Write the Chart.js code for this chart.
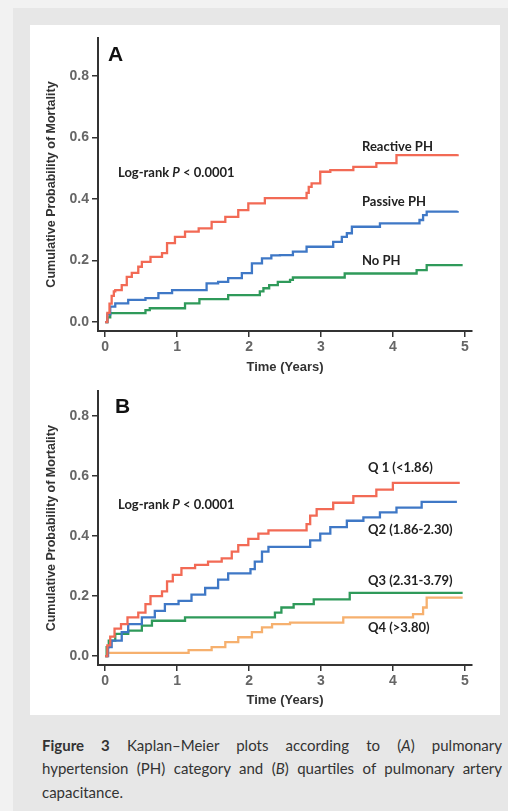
<!DOCTYPE html>
<html lang="en">
<head>
<meta charset="utf-8">
<title>Figure 3 Kaplan-Meier plots</title>
<script src="https://cdn.jsdelivr.net/npm/chart.js@4.4.1/dist/chart.umd.min.js"></script>
<style>
  body { margin: 0; width: 508px; height: 811px; position: relative; overflow: hidden; background: #f2f2f2; }
  #frame { position: absolute; left: 13px; top: 8px; width: 495px; height: 803px; background: #e7e7e7; }
  #panel { position: absolute; left: 30px; top: 25px; width: 470px; height: 690px; background: #fff; }
  canvas { position: absolute; left: 30px; }
  .lbl { position: absolute; white-space: nowrap; line-height: 1; transform: translateY(-50%);
         font-family: Lato, "Liberation Sans", sans-serif; font-weight: bold; font-size: 13px; color: #222; }
  .big { font-family: "Liberation Sans", Arial, sans-serif; font-size: 21px; color: #111; }
  .cap { position: absolute; left: 42px; width: 460px; font-family: Lato, sans-serif; font-size: 15px;
         color: #333; line-height: 1; white-space: nowrap; transform: translateY(-50%); }
  .just { text-align: justify; text-align-last: justify; }
</style>
</head>
<body>
<div id="frame"></div>
<div id="panel"></div>
<canvas id="chartA" width="470" height="355" style="top:25px"></canvas>
<canvas id="chartB" width="470" height="335" style="top:380px"></canvas>

<div class="lbl big" style="left:108px; top:53px">A</div>
<div class="lbl" style="left:118px; top:172px">Log-rank <i>P</i> &lt; 0.0001</div>
<div class="lbl" style="left:362px; top:146px">Reactive PH</div>
<div class="lbl" style="left:362px; top:201px">Passive PH</div>
<div class="lbl" style="left:362px; top:260px">No PH</div>

<div class="lbl big" style="left:115px; top:405px">B</div>
<div class="lbl" style="left:118px; top:504px">Log-rank <i>P</i> &lt; 0.0001</div>
<div class="lbl" style="left:368px; top:467px">Q 1 (&lt;1.86)</div>
<div class="lbl" style="left:368px; top:529px">Q2 (1.86-2.30)</div>
<div class="lbl" style="left:368px; top:580px">Q3 (2.31-3.79)</div>
<div class="lbl" style="left:368px; top:627px">Q4 (&gt;3.80)</div>

<div class="cap just" style="top:745px"><b>Figure 3</b> Kaplan–Meier plots according to (<i>A</i>) pulmonary</div>
<div class="cap just" style="top:768px">hypertension (PH) category and (<i>B</i>) quartiles of pulmonary artery</div>
<div class="cap" style="top:792px">capacitance.</div>

<script>
// axis ticks (years / cumulative probability)
const xTicks = [0, 1, 2, 3, 4, 5];
const yTicks = [0, 0.2, 0.4, 0.6, 0.8];

// Panel A: PH category
const reactiveT = [0, 0.03, 0.06, 0.09, 0.12, 0.14, 0.23, 0.30, 0.37, 0.46, 0.51, 0.63, 0.79, 0.86, 0.97, 1.11, 1.30, 1.48, 1.67, 1.85, 1.99, 2.22, 2.80, 2.83, 2.87, 2.99, 3.13, 3.45, 3.77, 4.05, 4.90];
const reactiveV = [0, 0.030, 0.060, 0.085, 0.100, 0.104, 0.120, 0.147, 0.160, 0.180, 0.196, 0.212, 0.224, 0.257, 0.277, 0.294, 0.305, 0.326, 0.342, 0.364, 0.386, 0.403, 0.420, 0.440, 0.451, 0.489, 0.494, 0.505, 0.517, 0.543, 0.546];
const passiveT = [0, 0.03, 0.07, 0.14, 0.32, 0.56, 0.74, 0.93, 1.41, 1.57, 1.71, 1.90, 2.04, 2.18, 2.31, 2.43, 2.61, 2.80, 3.17, 3.29, 3.36, 3.43, 3.82, 4.37, 4.42, 4.47, 4.90];
const passiveV = [0, 0.025, 0.050, 0.061, 0.072, 0.078, 0.094, 0.104, 0.126, 0.131, 0.143, 0.159, 0.191, 0.207, 0.217, 0.218, 0.229, 0.245, 0.261, 0.277, 0.289, 0.310, 0.321, 0.332, 0.348, 0.359, 0.361];
const noPhT = [0, 0.03, 0.07, 0.56, 0.62, 1.11, 1.31, 1.71, 2.15, 2.20, 2.28, 2.40, 2.57, 2.61, 3.33, 4.33, 4.47, 4.97];
const noPhV = [0, 0.015, 0.029, 0.039, 0.045, 0.061, 0.075, 0.088, 0.100, 0.110, 0.120, 0.131, 0.137, 0.145, 0.158, 0.169, 0.185, 0.185];

// Panel B: quartiles of pulmonary artery capacitance
const q1T = [0, 0.03, 0.07, 0.13, 0.22, 0.31, 0.46, 0.56, 0.63, 0.79, 0.86, 0.94, 1.06, 1.25, 1.43, 1.62, 1.76, 1.85, 1.99, 2.13, 2.27, 2.80, 2.85, 2.94, 3.17, 3.45, 3.77, 4.00, 4.93];
const q1V = [0, 0.036, 0.065, 0.092, 0.107, 0.129, 0.145, 0.173, 0.200, 0.216, 0.249, 0.271, 0.293, 0.304, 0.315, 0.326, 0.348, 0.370, 0.391, 0.408, 0.419, 0.440, 0.468, 0.490, 0.511, 0.533, 0.555, 0.577, 0.577];
const q2T = [0, 0.04, 0.09, 0.23, 0.32, 0.51, 0.69, 0.83, 1.02, 1.20, 1.39, 1.57, 1.71, 2.02, 2.08, 2.18, 2.27, 2.85, 2.99, 3.13, 3.36, 3.59, 3.82, 4.05, 4.40, 4.89];
const q2V = [0, 0.030, 0.052, 0.080, 0.107, 0.129, 0.151, 0.173, 0.184, 0.205, 0.227, 0.255, 0.276, 0.290, 0.315, 0.348, 0.364, 0.386, 0.408, 0.430, 0.451, 0.462, 0.479, 0.495, 0.514, 0.514];
const q3T = [0, 0.02, 0.05, 0.14, 0.32, 0.51, 0.65, 1.11, 2.36, 2.45, 2.62, 2.90, 3.40, 4.97];
const q3V = [0, 0.030, 0.052, 0.074, 0.085, 0.102, 0.118, 0.129, 0.145, 0.162, 0.173, 0.189, 0.211, 0.211];
const q4T = [0, 0.03, 1.16, 1.48, 1.67, 1.85, 2.04, 2.18, 2.32, 2.57, 3.31, 4.28, 4.42, 4.47, 4.97];
const q4V = [0, 0.011, 0.020, 0.030, 0.047, 0.063, 0.080, 0.096, 0.107, 0.112, 0.129, 0.140, 0.162, 0.195, 0.195];

const RED = '#f26a55', BLUE = '#3f78c6', GREEN = '#2f9a5a', ORANGE = '#f6b06e';
const FONT = "'Liberation Sans', Arial, sans-serif";

function pts(t, v) {
  return t.map((x, i) => ({ x: x, y: v[i] }));
}

function kmChart(id, series, yMin, yMax, padTop, xHeight, titlePad) {
  new Chart(document.getElementById(id), {
    type: 'line',
    data: {
      datasets: series.map(s => ({
        label: s.label,
        data: pts(s.t, s.v),
        borderColor: s.color,
        borderWidth: 2.3,
        stepped: true,
        pointRadius: 0,
        fill: false
      }))
    },
    options: {
      responsive: false,
      animation: false,
      layout: { padding: { top: padTop, right: 28, left: 0, bottom: 0 } },
      plugins: { legend: { display: false }, tooltip: { enabled: false } },
      scales: {
        x: {
          type: 'linear', min: -0.1, max: 5.1,
          afterBuildTicks: s => { s.ticks = xTicks.map(v => ({ value: v })); },
          afterFit: s => { s.height = xHeight; },
          border: { color: '#333', width: 2 },
          grid: { drawOnChartArea: false, tickLength: 6, color: '#333', lineWidth: 1.5 },
          ticks: { padding: 2, color: '#666', font: { family: FONT, size: 14, weight: 'bold' },
                   callback: v => String(v) },
          title: { display: true, text: 'Time (Years)', color: '#333', padding: { top: 0, bottom: titlePad },
                   font: { family: FONT, size: 13, weight: 'bold' } }
        },
        y: {
          min: yMin, max: yMax,
          afterBuildTicks: s => { s.ticks = yTicks.map(v => ({ value: v })); },
          afterFit: s => { s.width = 68; },
          border: { color: '#333', width: 2 },
          grid: { drawOnChartArea: false, tickLength: 6, color: '#333', lineWidth: 1.5 },
          ticks: { padding: 3, color: '#666', font: { family: FONT, size: 14, weight: 'bold' },
                   callback: v => v.toFixed(1) },
          title: { display: true, text: 'Cumulative Probability of Mortality', color: '#333',
                   padding: { top: 14, bottom: 0 }, font: { family: FONT, size: 12.5, weight: 'bold' } }
        }
      }
    }
  });
}

kmChart('chartA', [
  { label: 'Reactive PH', t: reactiveT, v: reactiveV, color: RED },
  { label: 'Passive PH', t: passiveT, v: passiveV, color: BLUE },
  { label: 'No PH', t: noPhT, v: noPhV, color: GREEN }
], -0.029, 0.924, 13, 49, 5);

kmChart('chartB', [
  { label: 'Q 1 (<1.86)', t: q1T, v: q1V, color: RED },
  { label: 'Q2 (1.86-2.30)', t: q2T, v: q2V, color: BLUE },
  { label: 'Q3 (2.31-3.79)', t: q3T, v: q3V, color: GREEN },
  { label: 'Q4 (>3.80)', t: q4T, v: q4V, color: ORANGE }
], -0.0295, 0.882, 7, 50, 7);
</script>
</body>
</html>
